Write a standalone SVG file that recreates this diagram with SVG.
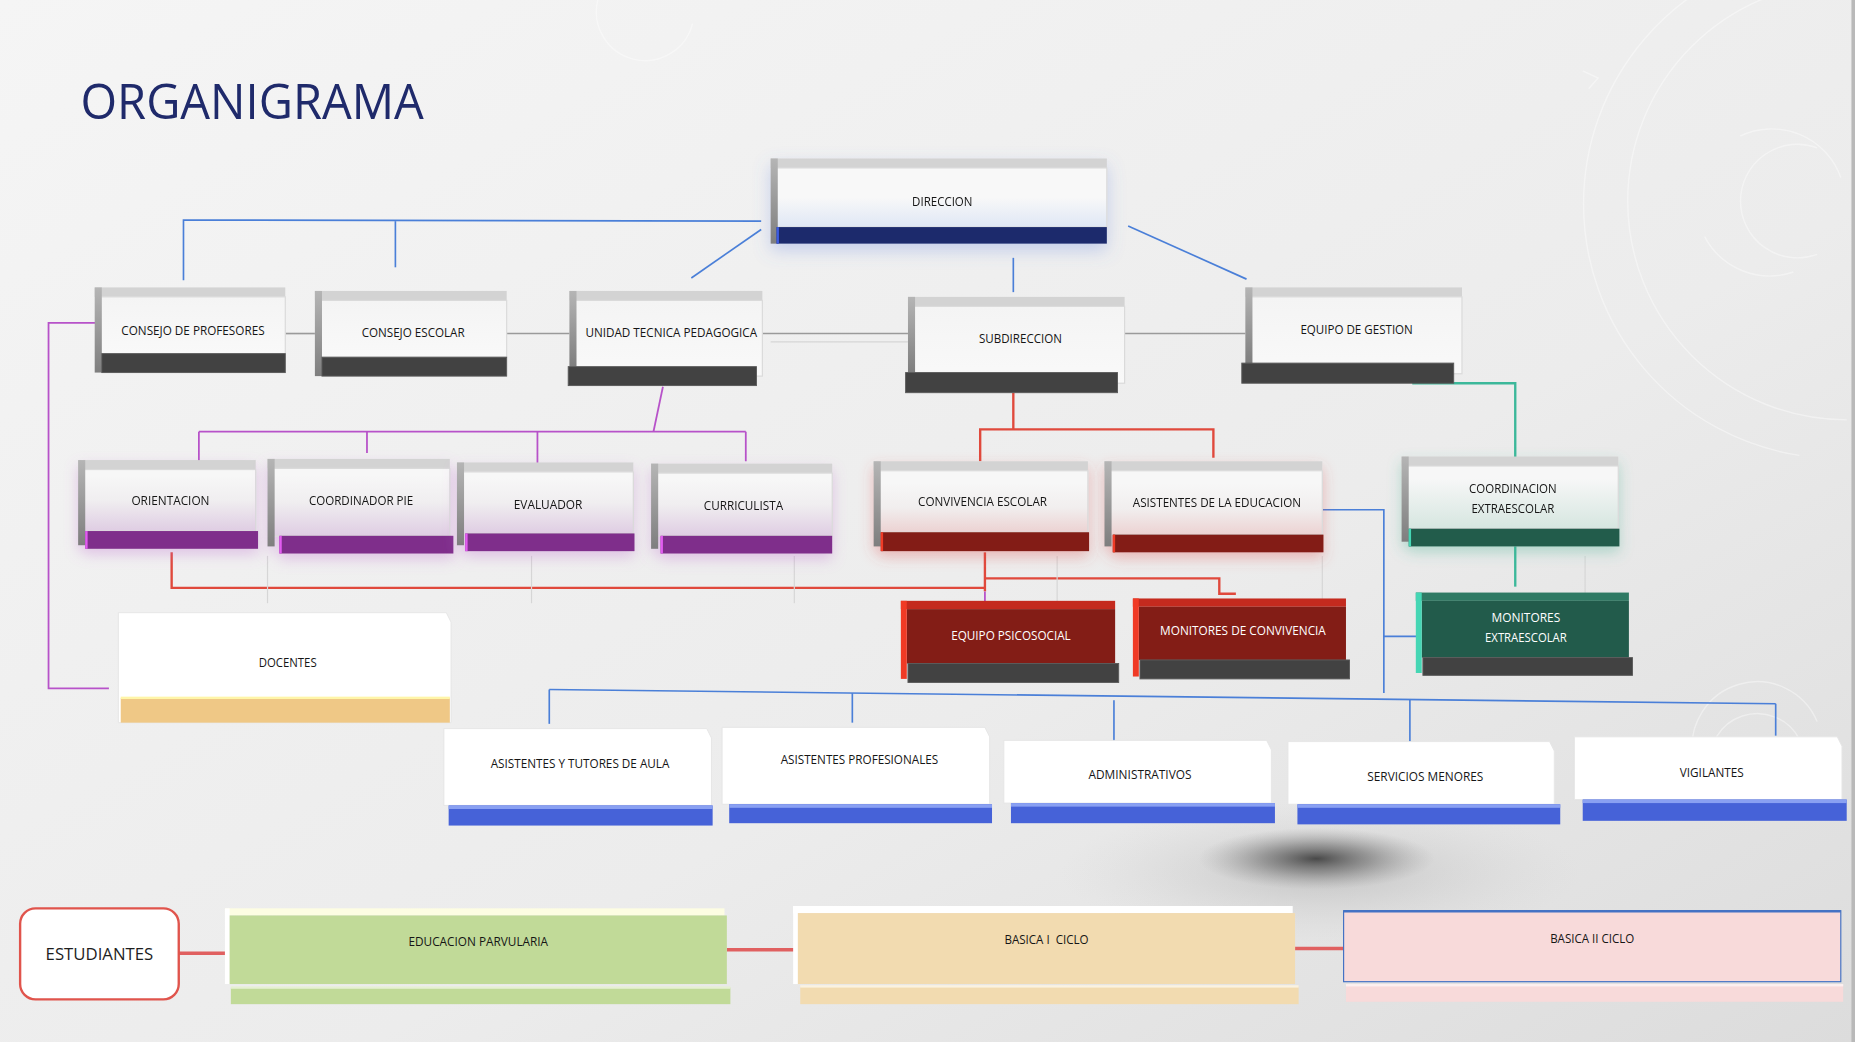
<svg xmlns="http://www.w3.org/2000/svg" width="1855" height="1042" viewBox="0 0 1855 1042">
<defs>
<linearGradient id="bg" x1="0" y1="0" x2="1" y2="1">
<stop offset="0" stop-color="#f5f5f5"/><stop offset="0.6" stop-color="#ececec"/><stop offset="1" stop-color="#dcdcdc"/>
</linearGradient>
<linearGradient id="fGray" x1="0" y1="0" x2="0" y2="1"><stop offset="0" stop-color="#f4f4f4"/><stop offset="1" stop-color="#f9f9f9"/></linearGradient>
<linearGradient id="fNavy" x1="0" y1="0" x2="0" y2="1"><stop offset="0.5" stop-color="#f8f8f8"/><stop offset="1" stop-color="#dfe7f5"/></linearGradient>
<linearGradient id="fPurp" x1="0" y1="0" x2="0" y2="1"><stop offset="0.1" stop-color="#f7f7f7"/><stop offset="0.5" stop-color="#f0eef0"/><stop offset="1" stop-color="#dfcde3"/></linearGradient>
<linearGradient id="fRed" x1="0" y1="0" x2="0" y2="1"><stop offset="0.2" stop-color="#f7f7f7"/><stop offset="0.6" stop-color="#f1eeee"/><stop offset="1" stop-color="#ecd2d2"/></linearGradient>
<linearGradient id="fGrn" x1="0" y1="0" x2="0" y2="1"><stop offset="0.2" stop-color="#f7f7f7"/><stop offset="1" stop-color="#d6e6e0"/></linearGradient>
<linearGradient id="lb" x1="0" y1="0" x2="0" y2="1"><stop offset="0" stop-color="#b5b5b5"/><stop offset="1" stop-color="#7e7e7e"/></linearGradient>
<radialGradient id="blob" cx="0.5" cy="0.5" r="0.5">
<stop offset="0" stop-color="#3a3a3a" stop-opacity="0.9"/><stop offset="0.45" stop-color="#666" stop-opacity="0.55"/><stop offset="1" stop-color="#999" stop-opacity="0"/>
</radialGradient>
<radialGradient id="blob2" cx="0.5" cy="0.5" r="0.5">
<stop offset="0" stop-color="#a8a8a8" stop-opacity="0.55"/><stop offset="1" stop-color="#d0d0d0" stop-opacity="0"/>
</radialGradient>
<filter id="glowP" x="-20%" y="-30%" width="140%" height="180%"><feDropShadow dx="0" dy="5" stdDeviation="6" flood-color="#c070d0" flood-opacity="0.35"/></filter>
<filter id="glowR" x="-20%" y="-30%" width="140%" height="180%"><feDropShadow dx="0" dy="5" stdDeviation="6" flood-color="#e05050" flood-opacity="0.35"/></filter>
<filter id="glowG" x="-20%" y="-30%" width="140%" height="180%"><feDropShadow dx="0" dy="5" stdDeviation="6" flood-color="#40b090" flood-opacity="0.35"/></filter>
<filter id="glowB" x="-20%" y="-30%" width="140%" height="180%"><feDropShadow dx="0" dy="6" stdDeviation="7" flood-color="#6080e0" flood-opacity="0.3"/></filter>
<style>
.topb{fill:#d3d3d3}
.leftb{fill:url(#lb)}
.edge{stroke:#dadada;stroke-width:1}
.dark{fill:#424242;stroke:#5a5a5a;stroke-width:0.8}
.navy{fill:#1c296c}
.purp{fill:#7f2d8b}
.purpE{fill:#e25cf0}
.red{fill:#831d16}
.redE{fill:#f03a25}
.grn{fill:#225b4b}
.grnE{fill:#45d6b4}
.blue{fill:#4662d8}
.blueT{fill:#89a0f2}
.white{fill:#ffffff;stroke:#e6e6e6;stroke-width:0.8}
.lbl{font-family:"Open Sans","Liberation Sans",sans-serif;font-size:10px;fill:#151515;text-anchor:middle}
.lblW{font-family:"Open Sans","Liberation Sans",sans-serif;font-size:10px;fill:#ffffff;text-anchor:middle}
.cB{stroke:#4a7fd8;stroke-width:1.4;fill:none}
.cG{stroke:#9a9a9a;stroke-width:1.4;fill:none}
.cGl{stroke:#d6d6d6;stroke-width:1;fill:none}
.cP{stroke:#b752c9;stroke-width:1.5;fill:none}
.cR{stroke:#e0493c;stroke-width:2;fill:none}
.cT{stroke:#3cb89a;stroke-width:2;fill:none}
.cS{stroke:#e06060;stroke-width:3;fill:none}
.deco{stroke:#ffffff;stroke-opacity:0.4;stroke-width:1.2;fill:none}
</style>
</defs>
<rect x="0" y="0" width="1855" height="1042" fill="url(#bg)"/>
<g transform="scale(1.18379,1.18275)">
<g id="decor">
<path class="deco" d="M1520 -40 A 215 215 0 0 0 1520 385"/>
<path class="deco" d="M1560 -15 A 185 185 0 0 0 1560 355"/>
<path class="deco" d="M1535 125 A 48 48 0 1 0 1535 215"/>
<path class="deco" d="M1470 115 A 62 62 0 0 1 1555 150"/>
<path class="deco" d="M1440 200 A 62 62 0 0 0 1515 230"/>
<path class="deco" d="M1337 60 L1350 66 L1342 75"/>
<path class="deco" d="M505 0 A 40 40 0 0 0 585 20"/>
<path class="deco" d="M1430 640 A 55 55 0 0 1 1535 610"/>
<path class="deco" d="M1445 650 A 40 40 0 0 1 1520 625"/>
<rect x="1564" y="0" width="3" height="881" fill="#b9b9b9"/>
<ellipse cx="1115" cy="738" rx="220" ry="60" fill="url(#blob2)"/>
<ellipse cx="1112" cy="726" rx="100" ry="26" fill="url(#blob)"/>
</g>
<text id="title" x="68" y="101" font-family="'Open Sans','Liberation Sans',sans-serif" font-size="42" fill="#1f2a6b" textLength="290" lengthAdjust="spacingAndGlyphs">ORGANIGRAMA</text>

<g id="connectors">
<polyline class="cB" points="155,237 155,186 643,187"/>
<line class="cB" x1="334" y1="187" x2="334" y2="226"/>
<line class="cB" x1="643" y1="194" x2="584" y2="235"/>
<line class="cB" x1="856" y1="218" x2="856" y2="247"/>
<line class="cB" x1="953" y1="191" x2="1053" y2="236"/>
<line class="cG" x1="241" y1="282" x2="266" y2="282"/>
<line class="cG" x1="428" y1="282" x2="481" y2="282"/>
<line class="cG" x1="644" y1="282" x2="767" y2="282"/>
<line class="cGl" x1="651" y1="289" x2="767" y2="289"/>
<line class="cG" x1="950" y1="282" x2="1052" y2="282"/>
<polyline class="cT" points="1193,324 1280,324 1280,389"/>
<line class="cT" x1="1280" y1="462" x2="1280" y2="496"/>
<line class="cP" x1="560" y1="327" x2="552" y2="365"/>
<line class="cP" x1="168" y1="365" x2="630" y2="365"/>
<line class="cP" x1="168" y1="365" x2="168" y2="393"/>
<line class="cP" x1="310" y1="365" x2="310" y2="383"/>
<line class="cP" x1="454" y1="365" x2="454" y2="396"/>
<line class="cP" x1="630" y1="365" x2="630" y2="390"/>
<polyline class="cP" points="81,273 41,273 41,582 92,582"/>
<line class="cR" x1="856" y1="332" x2="856" y2="363"/>
<polyline class="cR" points="828,390 828,363 1025,363 1025,387"/>
<polyline class="cR" points="145,467 145,497 832,497"/>
<line class="cR" x1="832" y1="467" x2="832" y2="500"/>
<polyline class="cR" points="832,489 1030,489 1030,502 1044,502"/>
<line class="cP" x1="832" y1="500" x2="832" y2="510"/>
<line class="cGl" x1="226" y1="470" x2="226" y2="510"/>
<line class="cGl" x1="449" y1="470" x2="449" y2="510"/>
<line class="cGl" x1="671" y1="470" x2="671" y2="510"/>
<line class="cGl" x1="893" y1="470" x2="893" y2="510"/>
<line class="cGl" x1="1117" y1="470" x2="1117" y2="510"/>
<line class="cGl" x1="1339" y1="470" x2="1339" y2="510"/>
<polyline class="cB" points="1117,431 1169,431 1169,586"/>
<line class="cB" x1="1169" y1="538" x2="1199" y2="538"/>
<line class="cB" x1="464" y1="583" x2="1500" y2="595"/>
<line class="cB" x1="464" y1="583" x2="464" y2="612"/>
<line class="cB" x1="720" y1="586" x2="720" y2="611"/>
<line class="cB" x1="941" y1="592" x2="941" y2="631"/>
<line class="cB" x1="1191" y1="591" x2="1191" y2="630"/>
<line class="cB" x1="1500" y1="595" x2="1500" y2="622"/>
<line class="cS" x1="151" y1="806" x2="191" y2="806"/>
<line class="cS" x1="614" y1="803" x2="671" y2="803"/>
<line class="cS" x1="1094" y1="802" x2="1136" y2="802"/>
</g>

<g id="n-direccion" filter="url(#glowB)">
<rect class="topb" x="651" y="134" width="284" height="8"/>
<rect fill="url(#fNavy)" class="edge" x="656" y="142" width="279" height="50"/>
<rect class="leftb" x="651" y="134" width="6" height="72"/>
<rect class="navy" x="656" y="192" width="279" height="14"/>
<rect fill="#3d5ce0" x="656" y="192" width="2" height="14"/>
<text class="lbl" x="796" y="174" textLength="51" lengthAdjust="spacingAndGlyphs">DIRECCION</text>
</g>
<g id="n-consejo-profesores">
<rect class="topb" x="80" y="243" width="161" height="8"/>
<rect fill="url(#fGray)" class="edge" x="85" y="251" width="156" height="48"/>
<rect class="leftb" x="80" y="243" width="6" height="72"/>
<rect class="dark" x="86" y="299" width="155" height="16"/>
<text class="lbl" x="163" y="283" textLength="121" lengthAdjust="spacingAndGlyphs">CONSEJO DE PROFESORES</text>
</g>
<g id="n-consejo-escolar">
<rect class="topb" x="266" y="246" width="162" height="8"/>
<rect fill="url(#fGray)" class="edge" x="271" y="254" width="157" height="48"/>
<rect class="leftb" x="266" y="246" width="6" height="72"/>
<rect class="dark" x="272" y="302" width="156" height="16"/>
<text class="lbl" x="349" y="285" textLength="87" lengthAdjust="spacingAndGlyphs">CONSEJO ESCOLAR</text>
</g>
<g id="n-utp">
<rect class="topb" x="481" y="246" width="163" height="8"/>
<rect fill="url(#fGray)" class="edge" x="486" y="254" width="158" height="64"/>
<rect class="leftb" x="481" y="246" width="6" height="64"/>
<rect class="dark" x="480" y="310" width="159" height="16"/>
<text class="lbl" x="567" y="285" textLength="145" lengthAdjust="spacingAndGlyphs">UNIDAD TECNICA PEDAGOGICA</text>
</g>
<g id="n-subdireccion">
<rect class="topb" x="767" y="251" width="183" height="8"/>
<rect fill="url(#fGray)" class="edge" x="772" y="259" width="178" height="65"/>
<rect class="leftb" x="767" y="251" width="6" height="64"/>
<rect class="dark" x="765" y="315" width="179" height="17"/>
<text class="lbl" x="862" y="290" textLength="70" lengthAdjust="spacingAndGlyphs">SUBDIRECCION</text>
</g>
<g id="n-equipo-gestion">
<rect class="topb" x="1052" y="243" width="183" height="8"/>
<rect fill="url(#fGray)" class="edge" x="1057" y="251" width="178" height="65"/>
<rect class="leftb" x="1052" y="243" width="6" height="64"/>
<rect class="dark" x="1049" y="307" width="179" height="17"/>
<text class="lbl" x="1146" y="282" textLength="95" lengthAdjust="spacingAndGlyphs">EQUIPO DE GESTION</text>
</g>

<g id="n-orientacion" filter="url(#glowP)">
<rect class="topb" x="66" y="389" width="150" height="8"/>
<rect fill="url(#fPurp)" class="edge" x="71" y="397" width="145" height="52"/>
<rect class="leftb" x="66" y="389" width="6" height="72"/>
<rect class="purp" x="72" y="449" width="146" height="15"/>
<rect class="purpE" x="72" y="449" width="2" height="15"/>
<text class="lbl" x="144" y="427" textLength="66" lengthAdjust="spacingAndGlyphs">ORIENTACION</text>
</g>
<g id="n-coordinador-pie" filter="url(#glowP)">
<rect class="topb" x="226" y="388" width="154" height="8"/>
<rect fill="url(#fPurp)" class="edge" x="231" y="396" width="149" height="57"/>
<rect class="leftb" x="226" y="388" width="6" height="74"/>
<rect class="purp" x="236" y="453" width="147" height="15"/>
<rect class="purpE" x="236" y="453" width="2" height="15"/>
<text class="lbl" x="305" y="427" textLength="88" lengthAdjust="spacingAndGlyphs">COORDINADOR PIE</text>
</g>
<g id="n-evaluador" filter="url(#glowP)">
<rect class="topb" x="386" y="391" width="149" height="8"/>
<rect fill="url(#fPurp)" class="edge" x="391" y="399" width="144" height="52"/>
<rect class="leftb" x="386" y="391" width="6" height="70"/>
<rect class="purp" x="393" y="451" width="143" height="15"/>
<rect class="purpE" x="393" y="451" width="2" height="15"/>
<text class="lbl" x="463" y="430" textLength="58" lengthAdjust="spacingAndGlyphs">EVALUADOR</text>
</g>
<g id="n-curriculista" filter="url(#glowP)">
<rect class="topb" x="550" y="392" width="153" height="8"/>
<rect fill="url(#fPurp)" class="edge" x="555" y="400" width="148" height="53"/>
<rect class="leftb" x="550" y="392" width="6" height="72"/>
<rect class="purp" x="558" y="453" width="145" height="15"/>
<rect class="purpE" x="558" y="453" width="2" height="15"/>
<text class="lbl" x="628" y="431" textLength="67" lengthAdjust="spacingAndGlyphs">CURRICULISTA</text>
</g>

<g id="n-convivencia" filter="url(#glowR)">
<rect class="topb" x="738" y="390" width="181" height="8"/>
<rect fill="url(#fRed)" class="edge" x="743" y="398" width="176" height="52"/>
<rect class="leftb" x="738" y="390" width="6" height="72"/>
<rect class="red" x="744" y="450" width="176" height="16"/>
<rect class="redE" x="744" y="450" width="2" height="16"/>
<text class="lbl" x="830" y="428" textLength="109" lengthAdjust="spacingAndGlyphs">CONVIVENCIA ESCOLAR</text>
</g>
<g id="n-asistentes-educacion" filter="url(#glowR)">
<rect class="topb" x="933" y="390" width="184" height="8"/>
<rect fill="url(#fRed)" class="edge" x="938" y="398" width="179" height="54"/>
<rect class="leftb" x="933" y="390" width="6" height="72"/>
<rect class="red" x="940" y="452" width="178" height="15"/>
<rect class="redE" x="940" y="452" width="2" height="15"/>
<text class="lbl" x="1028" y="429" textLength="142" lengthAdjust="spacingAndGlyphs">ASISTENTES DE LA EDUCACION</text>
</g>
<g id="n-coordinacion-extraescolar" filter="url(#glowG)">
<rect class="topb" x="1184" y="386" width="183" height="8"/>
<rect fill="url(#fGrn)" class="edge" x="1189" y="394" width="178" height="53"/>
<rect class="leftb" x="1184" y="386" width="6" height="72"/>
<rect class="grn" x="1190" y="447" width="178" height="15"/>
<rect class="grnE" x="1190" y="447" width="2" height="15"/>
<text class="lbl" x="1278" y="417" textLength="74" lengthAdjust="spacingAndGlyphs">COORDINACION</text>
<text class="lbl" x="1278" y="434" textLength="70" lengthAdjust="spacingAndGlyphs">EXTRAESCOLAR</text>
</g>

<g id="n-equipo-psicosocial">
<rect fill="#c42a1e" x="761" y="508" width="181" height="7"/>
<rect class="red" x="766" y="515" width="176" height="46"/>
<rect class="redE" x="761" y="508" width="5" height="66"/>
<rect class="dark" x="767" y="561" width="178" height="16"/>
<text class="lblW" x="854" y="541" textLength="101" lengthAdjust="spacingAndGlyphs">EQUIPO PSICOSOCIAL</text>
</g>
<g id="n-monitores-convivencia">
<rect fill="#c42a1e" x="957" y="506" width="180" height="7"/>
<rect class="red" x="962" y="513" width="175" height="45"/>
<rect class="redE" x="957" y="506" width="5" height="66"/>
<rect class="dark" x="963" y="558" width="177" height="16"/>
<text class="lblW" x="1050" y="537" textLength="140" lengthAdjust="spacingAndGlyphs">MONITORES DE CONVIVENCIA</text>
</g>
<g id="n-monitores-extraescolar">
<rect fill="#2f7a64" x="1196" y="501" width="180" height="7"/>
<rect class="grn" x="1201" y="508" width="175" height="48"/>
<rect class="grnE" x="1196" y="501" width="5" height="68"/>
<rect class="dark" x="1202" y="556" width="177" height="15"/>
<text class="lblW" x="1289" y="526" textLength="58" lengthAdjust="spacingAndGlyphs">MONITORES</text>
<text class="lblW" x="1289" y="543" textLength="69" lengthAdjust="spacingAndGlyphs">EXTRAESCOLAR</text>
</g>
<g id="n-docentes">
<polygon class="white" points="100,518 377,518 381,526 381,611 100,611"/>
<rect fill="#efc886" x="102" y="590" width="278" height="21"/>
<rect fill="#fff5a8" x="102" y="589" width="278" height="2"/>
<text class="lbl" x="243" y="564" textLength="49" lengthAdjust="spacingAndGlyphs">DOCENTES</text>
</g>

<g id="n-asistentes-tutores">
<polygon class="white" points="375,616 597,616 601,624 601,681 375,681"/>
<rect class="blue" x="379" y="681" width="223" height="17"/>
<rect class="blueT" x="379" y="681" width="223" height="3"/>
<text class="lbl" x="490" y="649" textLength="151" lengthAdjust="spacingAndGlyphs">ASISTENTES Y TUTORES DE AULA</text>
</g>
<g id="n-asistentes-profesionales">
<polygon class="white" points="610,615 832,615 836,623 836,680 610,680"/>
<rect class="blue" x="616" y="680" width="222" height="16"/>
<rect class="blueT" x="616" y="680" width="222" height="3"/>
<text class="lbl" x="726" y="646" textLength="133" lengthAdjust="spacingAndGlyphs">ASISTENTES PROFESIONALES</text>
</g>
<g id="n-administrativos">
<polygon class="white" points="848,626 1070,626 1074,634 1074,679 848,679"/>
<rect class="blue" x="854" y="679" width="223" height="17"/>
<rect class="blueT" x="854" y="679" width="223" height="3"/>
<text class="lbl" x="963" y="659" textLength="87" lengthAdjust="spacingAndGlyphs">ADMINISTRATIVOS</text>
</g>
<g id="n-servicios-menores">
<polygon class="white" points="1088,627 1309,627 1313,635 1313,680 1088,680"/>
<rect class="blue" x="1096" y="680" width="222" height="17"/>
<rect class="blueT" x="1096" y="680" width="222" height="3"/>
<text class="lbl" x="1204" y="660" textLength="98" lengthAdjust="spacingAndGlyphs">SERVICIOS MENORES</text>
</g>
<g id="n-vigilantes">
<polygon class="white" points="1330,623 1552,623 1556,631 1556,676 1330,676"/>
<rect class="blue" x="1337" y="676" width="223" height="18"/>
<rect class="blueT" x="1337" y="676" width="223" height="3"/>
<text class="lbl" x="1446" y="657" textLength="54" lengthAdjust="spacingAndGlyphs">VIGILANTES</text>
</g>

<g id="n-estudiantes">
<rect x="17" y="768" width="134" height="77" rx="13" fill="#ffffff" stroke="#e0544c" stroke-width="2"/>
<text x="84" y="812" font-family="'Open Sans','Liberation Sans',sans-serif" font-size="14" fill="#1e1e1e" text-anchor="middle" textLength="91" lengthAdjust="spacingAndGlyphs">ESTUDIANTES</text>
</g>
<g id="n-educacion-parvularia">
<rect fill="#fdfde2" x="190" y="768" width="422" height="6"/>
<rect fill="#ffffff" x="190" y="768" width="4" height="64"/>
<rect fill="#c1da98" x="194" y="774" width="420" height="58"/>
<rect fill="#c1da98" x="195" y="835" width="422" height="14"/>
<rect fill="#e6f0d2" x="195" y="834" width="422" height="2"/>
<text class="lbl" x="404" y="800" textLength="118" lengthAdjust="spacingAndGlyphs">EDUCACION PARVULARIA</text>
</g>
<g id="n-basica-i">
<rect fill="#ffffff" x="670" y="766" width="422" height="6"/>
<rect fill="#ffffff" x="670" y="766" width="4" height="66"/>
<rect fill="#f2dbb0" x="674" y="772" width="420" height="60"/>
<rect fill="#f2dbb0" x="676" y="834" width="421" height="15"/>
<rect fill="#fbf2e0" x="676" y="833" width="421" height="2"/>
<text class="lbl" x="884" y="798" textLength="71" lengthAdjust="spacingAndGlyphs" xml:space="preserve">BASICA I  CICLO</text>
</g>
<g id="n-basica-ii">
<rect fill="#f8dada" x="1135" y="770" width="420" height="60" stroke="#4472c4" stroke-width="1"/>
<rect fill="#4472c4" x="1135" y="769.5" width="420" height="2"/>
<rect fill="#f8dada" x="1137" y="833" width="420" height="14"/>
<rect fill="#fdf0f0" x="1137" y="832" width="420" height="2"/>
<text class="lbl" x="1345" y="797" textLength="71" lengthAdjust="spacingAndGlyphs">BASICA II CICLO</text>
</g>
</g>
</svg>
